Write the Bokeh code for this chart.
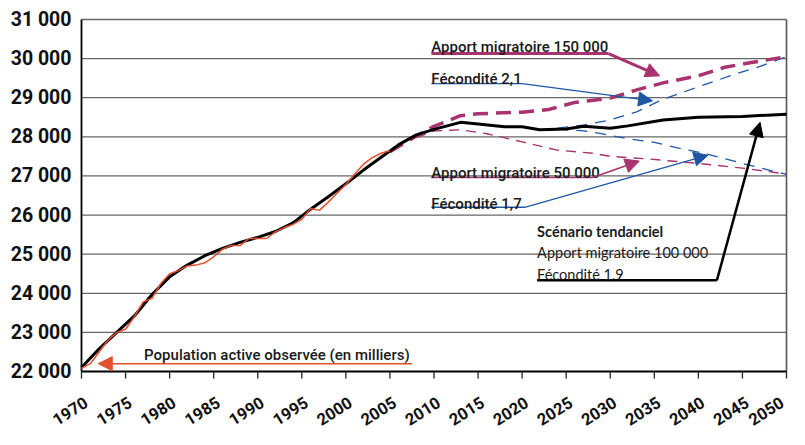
from bokeh.plotting import figure
from bokeh.models import Label, Arrow, NormalHead
from bokeh.embed import file_html
from bokeh.resources import INLINE

# ---------------- data ----------------
obs_years = [1970, 1971, 1972, 1973, 1974, 1975, 1976, 1977, 1978, 1979, 1980,
             1981, 1982, 1983, 1984, 1985, 1986, 1987, 1988, 1989, 1990,
             1991, 1992, 1993, 1994, 1995, 1996, 1997, 1998, 1999, 2000,
             2001, 2002, 2003, 2004, 2005]
obs_values = [22080, 22200, 22500, 22800, 23000, 23080, 23400, 23780, 23870, 24250, 24500,
              24580, 24700, 24720, 24780, 24930, 25130, 25220, 25220, 25400, 25400,
              25400, 25570, 25680, 25760, 25890, 26170, 26120, 26330, 26560, 26780,
              27050, 27300, 27470, 27580, 27650]

tend_years = [1970, 1972, 1974, 1976, 1978, 1980, 1982, 1984, 1986, 1988, 1990,
              1992, 1994, 1996, 1998, 2000, 2002, 2004, 2006, 2008, 2010,
              2013, 2015, 2018, 2020, 2022, 2025, 2027, 2030, 2032, 2036,
              2040, 2045, 2050]
tend_values = [22100, 22580, 23000, 23420, 23970, 24420, 24720, 24960, 25150, 25300, 25430,
               25580, 25800, 26150, 26470, 26800, 27150, 27480, 27800, 28050, 28190,
               28370, 28330, 28260, 28260, 28180, 28200, 28270, 28220, 28280, 28430,
               28500, 28520, 28580]

mig150_years = [2005, 2008, 2010, 2013, 2015, 2020, 2023, 2026, 2030, 2033, 2036, 2040, 2043, 2046, 2050]
mig150_values = [27620, 28020, 28270, 28540, 28590, 28630, 28700, 28880, 28990, 29200, 29380, 29560, 29780, 29900, 30050]

mig50_years = [2008, 2010, 2013, 2016, 2020, 2024, 2028, 2030, 2034, 2040, 2045, 2050]
mig50_values = [27980, 28150, 28180, 28080, 27870, 27660, 27580, 27500, 27440, 27320, 27200, 27050]

fec21_years = [2024, 2027, 2030, 2033, 2036, 2040, 2044, 2047, 2050]
fec21_values = [28220, 28300, 28430, 28640, 28960, 29280, 29590, 29800, 30050]

fec17_years = [2024, 2027, 2029, 2032, 2035, 2038, 2041, 2045, 2050]
fec17_values = [28200, 28150, 28080, 27950, 27860, 27700, 27560, 27320, 27040]

x_ticks = [1970, 1975, 1980, 1985, 1990, 1995, 2000, 2005, 2010, 2015,
           2020, 2025, 2030, 2035, 2040, 2045, 2050]
x_tick_labels = [str(t) for t in x_ticks]
y_ticks = [22000, 23000, 24000, 25000, 26000, 27000, 28000, 29000, 30000, 31000]
y_tick_labels = ["22 000", "23 000", "24 000", "25 000", "26 000",
                 "27 000", "28 000", "29 000", "30 000", "31 000"]

# ---------------- colours ----------------
RED = "#E2502E"
PURPLE = "#A8336E"
BLUE = "#1F57A5"
BLACK = "#000000"
GRID = "#666666"

# ---------------- layout geometry ----------------
# The plotting frame fills the whole canvas; axes are drawn by hand so that
# the slanted year labels are not clipped.
X0, X1 = x_ticks[0], x_ticks[-1]
Y0, Y1 = y_ticks[0], y_ticks[-1]
W, H = 789, 429
AX_LEFT_PX, AX_RIGHT_PX = 81, 786     # canvas x of X0 and X1
AX_TOP_PX, AX_BOTTOM_PX = 19, 371     # canvas y of Y1 and Y0
ppy = (AX_RIGHT_PX - AX_LEFT_PX) / (X1 - X0)      # px per year
ppu = (AX_BOTTOM_PX - AX_TOP_PX) / (Y1 - Y0)      # px per unit
x_start = X0 - AX_LEFT_PX / ppy
x_end = X1 + (W - AX_RIGHT_PX) / ppy
y_end = Y1 + AX_TOP_PX / ppu
y_start = Y0 - (H - AX_BOTTOM_PX) / ppu

p = figure(width=W, height=H, x_range=(x_start, x_end), y_range=(y_start, y_end),
           output_backend="svg", toolbar_location=None,
           x_axis_location=None, y_axis_location=None, min_border=0)
p.grid.visible = False
p.outline_line_color = None

# horizontal grid lines (from the y ticks)
p.segment(x0=[X0] * (len(y_ticks) - 1), y0=y_ticks[1:], x1=[X1] * (len(y_ticks) - 1),
          y1=y_ticks[1:], line_color=GRID, line_width=1.3)
# right frame border
p.segment(x0=[X1], y0=[Y0], x1=[X1], y1=[Y1], line_color="#555555", line_width=1.6)
# axis lines
p.segment(x0=[X0, X0], y0=[Y0, Y0], x1=[X0, X1], y1=[Y1, Y0], line_color=BLACK, line_width=1.8)
# x ticks
tick_len = 7 / ppu
p.segment(x0=x_ticks, y0=[Y0] * len(x_ticks), x1=x_ticks, y1=[Y0 - tick_len] * len(x_ticks),
          line_color="#222222", line_width=1.3)

# y tick labels
for t, lab in zip(y_ticks, y_tick_labels):
    p.add_layout(Label(x=X0, y=t, text=lab, text_align="right", text_baseline="middle",
                       x_offset=-10, y_offset=0, text_font="Roboto", text_font_size="19.5px",
                       text_font_style="bold", text_color="#111111"))

# slanted year labels
for t, lab in zip(x_ticks, x_tick_labels):
    xoff = min(-11.5, (X1 - t) * ppy - 20.5)
    p.add_layout(Label(x=t, y=Y0, text=lab, angle=0.56, text_align="center",
                       text_baseline="middle", x_offset=xoff, y_offset=-39.5,
                       text_font="Roboto", text_font_size="16.5px", text_font_style="bold",
                       text_color="#111111"))

# ---------------- series ----------------
p.line(mig50_years, mig50_values, line_color=PURPLE, line_width=1.4, line_dash="10 7")
p.line(fec17_years, fec17_values, line_color=BLUE, line_width=1.3, line_dash="11 8")
p.line(fec21_years, fec21_values, line_color=BLUE, line_width=1.3, line_dash="11 8")
p.line(mig150_years, mig150_values, line_color=PURPLE, line_width=3.5, line_dash="15 8")
p.line(tend_years, tend_values, line_color=BLACK, line_width=3)
p.line(obs_years, obs_values, line_color=RED, line_width=1.5)

# ---------------- annotations ----------------
ANN_FONT = "Roboto Medium, Roboto"
ANN_SIZE = "15px"


def callout(text_lines, x_text, y_base, line_pts, tip, color, lw, styles=None,
            font=ANN_FONT, size=ANN_SIZE):
    for i, t in enumerate(text_lines):
        st = styles[i] if styles else "normal"
        p.add_layout(Label(x=x_text, y=y_base[i], text=t, text_font=font,
                           text_font_size=size, text_font_style=st,
                           text_color="#1a1a1a", text_baseline="alphabetic"))
    xs = [pt[0] for pt in line_pts]
    ys = [pt[1] for pt in line_pts]
    p.line(xs, ys, line_color=color, line_width=lw)
    p.add_layout(Arrow(x_start=xs[-1], y_start=ys[-1], x_end=tip[0], y_end=tip[1],
                       line_color=color, line_width=lw,
                       end=NormalHead(size=14, fill_color=color, line_color=color, line_width=1)))


# Apport migratoire 150 000
callout(["Apport migratoire 150 000"], 2009.7, [30290],
        [(2009.7, 30130), (2029.8, 30130)], (2035.6, 29560), PURPLE, 3)
# Fecondite 2,1
callout(["Fécondité 2,1"], 2009.7, [29480],
        [(2009.7, 29360), (2020.0, 29360)], (2034.8, 28920), BLUE, 1.3)
# Apport migratoire 50 000
callout(["Apport migratoire 50 000"], 2009.7, [27080],
        [(2009.7, 26960), (2028.0, 26960)], (2033.3, 27380), PURPLE, 1.5)
# Fecondite 1,7
callout(["Fécondité 1,7"], 2009.7, [26290],
        [(2009.7, 26200), (2020.4, 26200)], (2041.1, 27530), BLUE, 1.3)
# Scenario tendanciel
callout(["Scénario tendanciel", "Apport migratoire 100 000", "Fécondité 1,9"],
        2021.7, [25590, 25040, 24480],
        [(2021.7, 24330), (2042.1, 24330)], (2047.0, 28370), BLACK, 2.5,
        styles=["bold", "normal", "normal"], font="Lato", size="14.5px")
# Population active observee
p.add_layout(Label(x=1977.1, y=22420, text="Population active observée (en milliers)",
                   text_font=ANN_FONT, text_font_size=ANN_SIZE, text_font_style="normal",
                   text_color="#1a1a1a", text_baseline="alphabetic"))
p.add_layout(Arrow(x_start=2007.5, y_start=22200, x_end=1971.9, y_end=22200,
                   line_color=RED, line_width=1.5,
                   end=NormalHead(size=14, fill_color=RED, line_color=RED, line_width=1)))

open("out.html", "w").write(file_html(p, INLINE))
